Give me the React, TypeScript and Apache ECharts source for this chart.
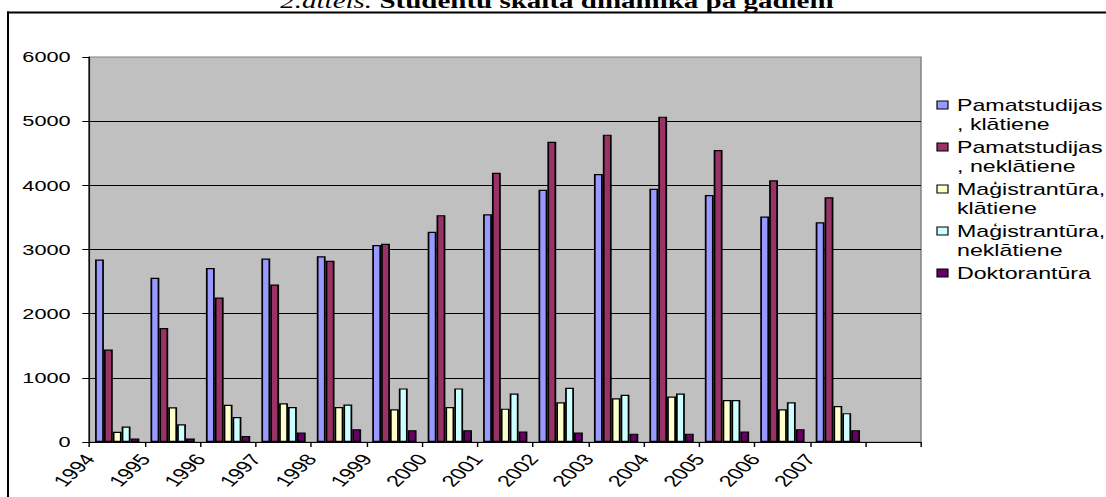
import React, { useEffect, useRef } from "react";
import * as echarts from "echarts";

// ---- data ----
const years = ["1994", "1995", "1996", "1997", "1998", "1999", "2000", "2001", "2002", "2003", "2004", "2005", "2006", "2007"];
const pamatKlatiene = [2845, 2560, 2710, 2860, 2895, 3070, 3275, 3550, 3930, 4175, 3945, 3850, 3515, 3425];
const pamatNeklatiene = [1440, 1775, 2250, 2455, 2825, 3090, 3535, 4195, 4680, 4790, 5070, 4550, 4080, 3815];
const magKlatiene = [160, 540, 580, 605, 545, 510, 545, 520, 620, 680, 710, 655, 510, 560];
const magNeklatiene = [240, 275, 390, 545, 585, 835, 835, 755, 845, 735, 755, 655, 620, 450];
const doktorantura = [55, 55, 95, 150, 200, 185, 185, 165, 150, 130, 130, 165, 200, 185];
const yTicks = { min: 0, max: 6000, interval: 1000 };

const seriesNames = [
  "Pamatstudijas, klātiene",
  "Pamatstudijas, neklātiene",
  "Maģistrantūra, klātiene",
  "Maģistrantūra, neklātiene",
  "Doktorantūra",
];
const legendLines = [
  ["Pamatstudijas", ", klātiene"],
  ["Pamatstudijas", ", neklātiene"],
  ["Maģistrantūra,", "klātiene"],
  ["Maģistrantūra,", "neklātiene"],
  ["Doktorantūra"],
];
const colors = ["#9999FF", "#993366", "#FFFFCC", "#CCFFFF", "#660066"];
const seriesValues = [pamatKlatiene, pamatNeklatiene, magKlatiene, magNeklatiene, doktorantura];
const titleItalic = "2.attēls. ";
const titleBold = "Studentu skaita dinamika pa gadiem";

// ---- layout (reference image is horizontally stretched) ----
const PAGE_W = 1106;
const BOX_W = 763;
const SX = PAGE_W / BOX_W;
const px = (x: number) => x / SX;
const SANS = "Liberation Sans, Arial, sans-serif";
const SERIF = "Liberation Serif, Times New Roman, serif";

export default function App() {
  const ref = useRef<HTMLDivElement>(null);
  useEffect(() => {
    if (!ref.current) return;
    const chart = echarts.init(ref.current, null, { renderer: "svg" });

    const legendX = px(937);
    const textX = px(957);
    const firstY = 105;
    const pitch = 42;
    const lineH = 19;
    const legendGraphics: any[] = [];
    legendLines.forEach((lines, i) => {
      const cy = firstY + i * pitch;
      legendGraphics.push({
        type: "rect",
        shape: { x: legendX, y: cy - 4, width: px(11), height: 8 },
        style: { fill: colors[i], stroke: "#000", lineWidth: 0.8 },
      });
      legendGraphics.push({
        type: "text",
        x: textX,
        y: cy - lineH / 2,
        style: {
          text: lines.join("\n"),
          fontFamily: SANS,
          fontSize: 16,
          lineHeight: lineH,
          fill: "#000",
          align: "left",
          verticalAlign: "top",
        },
      });
    });

    const cats15 = [...years, ""];
    const cats16 = [...years, "", ""];

    chart.setOption({
      animation: false,
      backgroundColor: "#fff",
      grid: {
        left: px(89.5),
        top: 57,
        width: px(921) - px(89.5),
        height: 385,
        show: true,
        backgroundColor: "#C0C0C0",
        borderColor: "#808080",
        borderWidth: 1,
      },
      xAxis: [
        {
          type: "category",
          data: cats15,
          position: "bottom",
          axisLine: { show: true, lineStyle: { color: "#000", width: 1 } },
          axisTick: { show: true, length: 5, interval: 0, lineStyle: { color: "#000" } },
          axisLabel: { show: false },
          splitLine: { show: false },
        },
        {
          type: "category",
          data: cats16,
          boundaryGap: false,
          position: "bottom",
          axisLine: { show: false },
          axisTick: { show: false },
          splitLine: { show: false },
          axisLabel: {
            interval: 0,
            rotate: 53,
            margin: 14,
            fontSize: 16,
            fontFamily: SANS,
            color: "#000",
          },
        },
      ],
      yAxis: {
        type: "value",
        min: yTicks.min,
        max: yTicks.max,
        interval: yTicks.interval,
        axisLine: { show: true, lineStyle: { color: "#000", width: 1 } },
        axisTick: { show: true, length: 5, lineStyle: { color: "#000" } },
        axisLabel: {
          fontSize: 15,
          fontFamily: SANS,
          color: "#000",
          margin: 13,
          formatter: (v: number) => String(v),
        },
        splitLine: { show: true, showMaxLine: false, lineStyle: { color: "#000", width: 1 } },
      },
      series: seriesValues.map((vals, i) => ({
        name: seriesNames[i],
        type: "bar",
        xAxisIndex: 0,
        data: vals,
        barGap: "0%",
        barCategoryGap: "20%",
        itemStyle: { color: colors[i], borderColor: "#000", borderWidth: 1.2 },
      })),
      graphic: [
        {
          type: "line",
          shape: { x1: px(7), y1: 12.5, x2: BOX_W + 10, y2: 12.5 },
          style: { stroke: "#000", lineWidth: 2 },
        },
        {
          type: "line",
          shape: { x1: px(8), y1: 11.5, x2: px(8), y2: 600 },
          style: { stroke: "#000", lineWidth: 1.4 },
        },
        {
          type: "text",
          x: px(557),
          y: 1,
          style: {
            text: `{i|${titleItalic}}{b|${titleBold}}`,
            align: "center",
            verticalAlign: "middle",
            rich: {
              i: { fontFamily: SERIF, fontSize: 20, fontStyle: "italic", fill: "#000" },
              b: { fontFamily: SERIF, fontSize: 20, fontWeight: "bold", fill: "#000" },
            },
          },
        },
        ...legendGraphics,
      ],
    });
    return () => chart.dispose();
  }, []);

  return (
    <div
      ref={ref}
      style={{
        position: "fixed",
        left: 0,
        top: 0,
        width: BOX_W,
        height: 497,
        transform: `scaleX(${SX})`,
        transformOrigin: "0 0",
        background: "#fff",
      }}
    />
  );
}
